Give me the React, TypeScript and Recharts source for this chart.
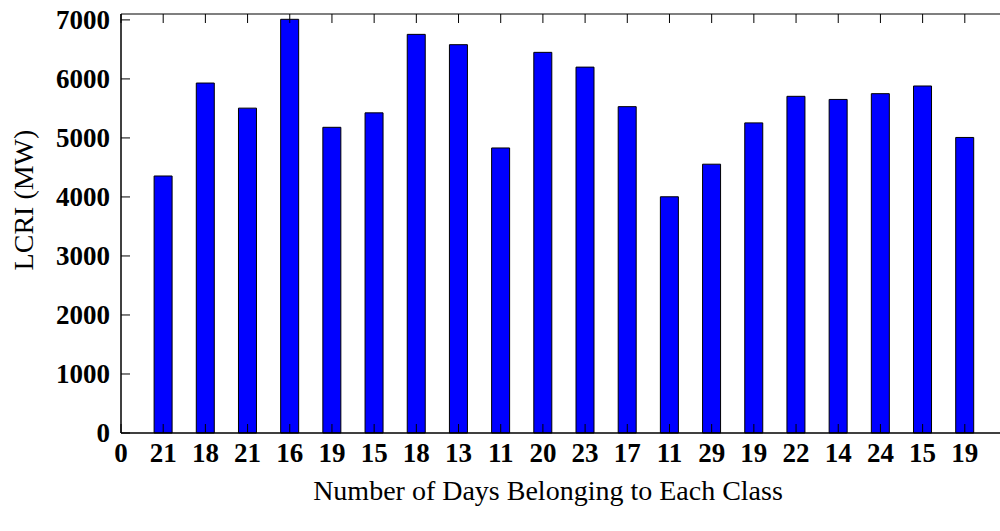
import React from "react";
import { BarChart, Bar, XAxis, YAxis } from "recharts";

const classIndex = [1, 2, 3, 4, 5, 6, 7, 8, 9, 10, 11, 12, 13, 14, 15, 16, 17, 18, 19, 20];
const dayCounts = [21, 18, 21, 16, 19, 15, 18, 13, 11, 20, 23, 17, 11, 29, 19, 22, 14, 24, 15, 19];
const lcriValues = [4355, 5930, 5505, 7010, 5180, 5425, 6755, 6580, 4830, 6450, 6200, 5530, 4003, 4555, 5255, 5705, 5652, 5750, 5880, 5008];
const xTicks = [0, 1, 2, 3, 4, 5, 6, 7, 8, 9, 10, 11, 12, 13, 14, 15, 16, 17, 18, 19, 20];
const yTicks = [0, 1000, 2000, 3000, 4000, 5000, 6000, 7000];
const xDomain = [0, 21];
const yDomain = [0, 7100];

const data = classIndex.map((x, i) => ({ x, value: lcriValues[i], days: dayCounts[i] }));

const FONT = '"Liberation Serif", "Times New Roman", serif';
const TICK_LEN = 9;

const xLabelFor = (v: number) => (v === 0 ? "0" : String(dayCounts[v - 1]));

const BottomTick = (props: any) => {
  const { x, y, payload } = props;
  return (
    <g>
      <line x1={x} y1={y} x2={x} y2={y - TICK_LEN} stroke="#000" strokeWidth={1} />
      <text x={x} y={y + 29} textAnchor="middle" fontFamily={FONT} fontWeight="bold" fontSize={27} fill="#000">
        {xLabelFor(payload.value)}
      </text>
    </g>
  );
};

const TopTick = (props: any) => {
  const { x, y } = props;
  return <line x1={x} y1={y} x2={x} y2={y + TICK_LEN} stroke="#000" strokeWidth={1} />;
};

const LeftTick = (props: any) => {
  const { x, y, payload } = props;
  return (
    <g>
      <line x1={x} y1={y} x2={x + TICK_LEN} y2={y} stroke="#000" strokeWidth={1} />
      <text x={x - 11} y={y + 9} textAnchor="end" fontFamily={FONT} fontWeight="bold" fontSize={27} fill="#000">
        {payload.value}
      </text>
    </g>
  );
};

const RightTick = (props: any) => {
  const { x, y } = props;
  return <line x1={x} y1={y} x2={x - TICK_LEN} y2={y} stroke="#000" strokeWidth={1} />;
};

export default function App() {
  return (
    <div style={{ position: "absolute", left: 0, top: 0, width: 1000, height: 531, overflow: "hidden", background: "#fff" }}>
      <BarChart
        width={1010}
        height={531}
        data={data}
        margin={{ top: 13, right: 0, bottom: 0, left: 0 }}
      >
        <XAxis
          dataKey="x"
          type="number"
          domain={xDomain}
          ticks={xTicks}
          interval={0}
          height={98}
          tickSize={0}
          tickMargin={0}
          tickLine={false}
          tick={<BottomTick />}
          axisLine={{ stroke: "#000", strokeWidth: 1.5 }}
        />
        <XAxis
          xAxisId="top"
          dataKey="x"
          type="number"
          orientation="top"
          domain={xDomain}
          ticks={xTicks}
          interval={0}
          height={1}
          tickSize={0}
          tickMargin={0}
          tickLine={false}
          tick={<TopTick />}
          axisLine={{ stroke: "#000", strokeWidth: 1.2 }}
        />
        <YAxis
          type="number"
          domain={yDomain}
          ticks={yTicks}
          interval={0}
          width={121}
          tickSize={0}
          tickMargin={0}
          tickLine={false}
          tick={<LeftTick />}
          axisLine={{ stroke: "#000", strokeWidth: 1.5 }}
        />
        <YAxis
          yAxisId="right"
          type="number"
          orientation="right"
          domain={yDomain}
          ticks={yTicks}
          interval={0}
          width={3}
          tickSize={0}
          tickMargin={0}
          tickLine={false}
          tick={<RightTick />}
          axisLine={{ stroke: "#000", strokeWidth: 1.2 }}
        />
        <Bar dataKey="value" fill="#0000ff" stroke="#000" strokeWidth={1} barSize={18} isAnimationActive={false} />
      </BarChart>
      <svg width={1000} height={531} style={{ position: "absolute", left: 0, top: 0, pointerEvents: "none" }}>
        <text x={548} y={500} textAnchor="middle" fontFamily={FONT} fontSize={28} fill="#000">
          Number of Days Belonging to Each Class
        </text>
        <text transform="translate(33,200) rotate(-90)" textAnchor="middle" fontFamily={FONT} fontSize={28} fill="#000">
          LCRI (MW)
        </text>
      </svg>
    </div>
  );
}
